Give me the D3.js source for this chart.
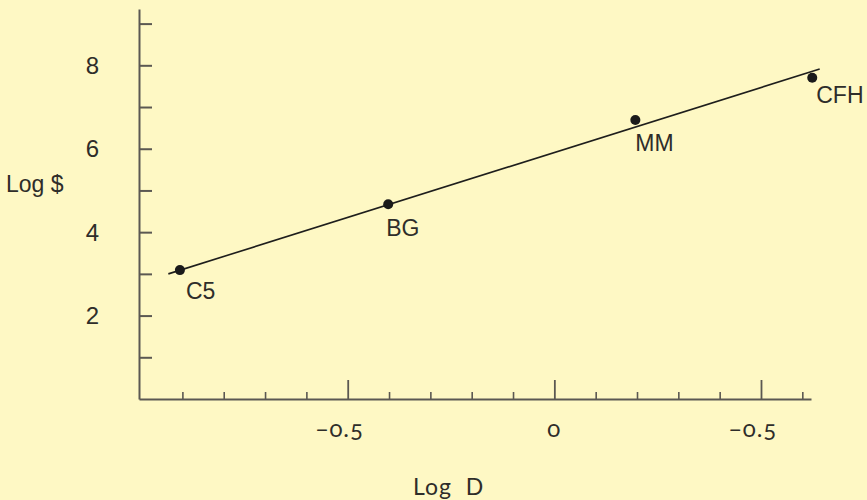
<!DOCTYPE html>
<html>
<head>
<meta charset="utf-8">
<script src="https://cdn.jsdelivr.net/npm/d3@7"></script>
<style>
  body { margin: 0; background: #fef8c4; }
  svg { display: block; }
  .old { font-variant-numeric: oldstyle-nums; font-feature-settings: "onum" 1; }
</style>
</head>
<body>
<div id="vis-container"></div>
<script>
const width = 867;
const height = 500;
const margin = { top: 9, right: 56, bottom: 101, left: 139 };

// points
const names = ["C5", "BG", "MM", "CFH"];
const logD = [-0.906, -0.402, 0.196, 0.624];
const logDollar = [3.09, 4.67, 6.69, 7.70];

// ends of the fitted line
const lineD = [-0.934, 0.642];
const lineDollar = [3.0, 7.91];

// ticks
const yTicks = [1, 2, 3, 4, 5, 6, 7, 8, 9];
const yLabels = [2, 4, 6, 8];
const xMajor = [-0.5, 0, 0.5];
const xMajorLabels = ["\u22120.5", "0", "\u22120.5"];
const xMinor = [-0.9, -0.8, -0.7, -0.6, -0.4, -0.3, -0.2, -0.1, 0.1, 0.2, 0.3, 0.4, 0.6];

const axisColor = "#5b5852";
const textColor = "#2e2d2a";
const sansFont = "'Liberation Sans', Arial, sans-serif";
const tickFont = "Lato, 'Open Sans', sans-serif";

const svg = d3.select("#vis-container")
              .append("svg")
              .attr("width", width)
              .attr("height", height)
              .attr("viewBox", [0, 0, width, height]);

const x = d3.scaleLinear()
            .domain([-1.005, 0.621])
            .range([margin.left, width - margin.right]);

const y = d3.scaleLinear()
            .domain([0, 9.35])
            .range([height - margin.bottom, margin.top]);

// y axis, ticks pointing right
svg.append("g")
    .attr("transform", `translate(${margin.left},0)`)
    .call(d3.axisRight(y).tickValues(yTicks).tickSize(13).tickSizeOuter(0).tickFormat(""))
    .call((g) => g.selectAll("path, line").attr("stroke", axisColor).attr("stroke-width", 2));

svg.append("g")
    .selectAll("text")
    .data(yLabels)
    .enter()
    .append("text")
      .attr("x", 99)
      .attr("y", (d) => y(d))
      .attr("dy", "0.36em")
      .attr("text-anchor", "end")
      .attr("font-family", sansFont)
      .attr("font-size", 24)
      .attr("fill", textColor)
      .text((d) => d);

svg.append("text")
    .attr("x", 6)
    .attr("y", 192)
    .attr("font-family", sansFont)
    .attr("font-size", 23)
    .attr("fill", textColor)
    .text("Log $");

// x axis: minor ticks with the baseline, then long major ticks
svg.append("g")
    .attr("transform", `translate(0,${height - margin.bottom})`)
    .call(d3.axisTop(x).tickValues(xMinor).tickSize(7).tickSizeOuter(0).tickFormat(""))
    .call((g) => g.select(".domain").attr("stroke", axisColor).attr("stroke-width", 2))
    .call((g) => g.selectAll(".tick line").attr("stroke", axisColor).attr("stroke-width", 1.6));

svg.append("g")
    .attr("transform", `translate(0,${height - margin.bottom})`)
    .call(d3.axisTop(x).tickValues(xMajor).tickSize(19).tickFormat(""))
    .call((g) => g.select(".domain").remove())
    .call((g) => g.selectAll(".tick line").attr("stroke", axisColor).attr("stroke-width", 1.8));

svg.append("g")
    .selectAll("text")
    .data(xMajor)
    .enter()
    .append("text")
      .attr("class", "old")
      .attr("x", (d) => x(d))
      .attr("dx", (d) => d == 0 ? 0 : -8)
      .attr("y", 437)
      .attr("text-anchor", "middle")
      .attr("font-family", tickFont)
      .attr("font-size", 24)
      .attr("letter-spacing", 1)
      .attr("fill", textColor)
      .text((d, i) => xMajorLabels[i]);

svg.append("text")
    .attr("x", 413)
    .attr("y", 495)
    .attr("font-family", tickFont)
    .attr("font-size", 23)
    .attr("letter-spacing", 1)
    .attr("fill", textColor)
    .style("white-space", "pre")
    .text("Log  D");

// fitted line
svg.append("line")
    .attr("x1", x(lineD[0]))
    .attr("y1", y(lineDollar[0]))
    .attr("x2", x(lineD[1]))
    .attr("y2", y(lineDollar[1]))
    .attr("stroke", "#1e1e1c")
    .attr("stroke-width", 1.6);

// points and their labels
const pts = names.map((n, i) => ({ name: n, d: logD[i], v: logDollar[i] }));

svg.selectAll("circle")
    .data(pts)
    .enter()
    .append("circle")
      .attr("cx", (d) => x(d.d))
      .attr("cy", (d) => y(d.v))
      .attr("r", 5)
      .attr("fill", "#1a1a1a");

// label nudges relative to each dot [dx, dy]
const labelOffset = { C5: [6, 29], BG: [-2, 32], MM: [0, 31], CFH: [4, 25] };

svg.selectAll(".pt-label")
    .data(pts)
    .enter()
    .append("text")
      .attr("class", "pt-label")
      .attr("x", (d) => x(d.d) + labelOffset[d.name][0])
      .attr("y", (d) => y(d.v) + labelOffset[d.name][1])
      .attr("font-family", sansFont)
      .attr("font-size", 23)
      .attr("fill", textColor)
      .text((d) => d.name);
</script>
</body>
</html>
